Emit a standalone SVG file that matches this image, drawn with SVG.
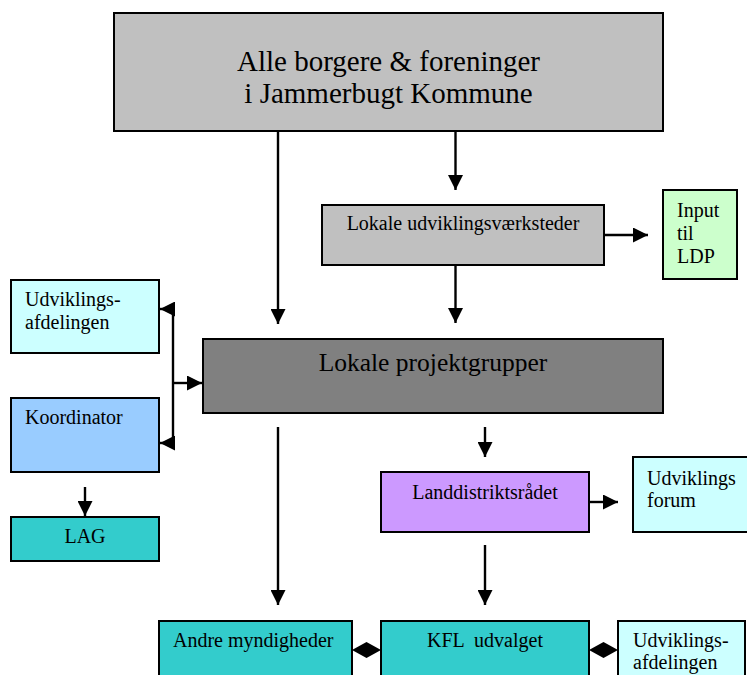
<svg xmlns="http://www.w3.org/2000/svg" width="747" height="675" viewBox="0 0 747 675" font-family="'Liberation Serif', 'Times New Roman', 'DejaVu Serif', serif">
<style>
.box{stroke:#000;stroke-width:2}
text{font-family:"Liberation Serif","Times New Roman","DejaVu Serif",serif;font-size:20px;fill:#000}
.c{text-anchor:middle}
.ln{stroke:#000;stroke-width:2.4;fill:none}
</style>
<defs>
<marker id="ah" viewBox="0 0 15 15" refX="15" refY="7.5" markerWidth="15" markerHeight="15" markerUnits="userSpaceOnUse" orient="auto">
<path d="M0,0 L15,7.5 L0,15 Z" fill="#000"/>
</marker>
</defs>
<rect width="747" height="675" fill="#fff"/>
<g id="connectors">
<path class="ln" d="M278,131 V324" marker-end="url(#ah)"/>
<path class="ln" d="M455.5,131 V190" marker-end="url(#ah)"/>
<path class="ln" d="M455.5,265 V323" marker-end="url(#ah)"/>
<path class="ln" d="M604,235 H648" marker-end="url(#ah)"/>
<path class="ln" d="M173,309 V443"/>
<path class="ln" d="M174,309 H160" marker-end="url(#ah)"/>
<path class="ln" d="M174,443 H160" marker-end="url(#ah)"/>
<path class="ln" d="M173,383 H202" marker-end="url(#ah)"/>
<path class="ln" d="M85,487 V516" marker-end="url(#ah)"/>
<path class="ln" d="M278,427 V605" marker-end="url(#ah)"/>
<path class="ln" d="M485,427 V457" marker-end="url(#ah)"/>
<path class="ln" d="M589,502 H618" marker-end="url(#ah)"/>
<path class="ln" d="M485,545 V605" marker-end="url(#ah)"/>
<polygon points="352,650 366.5,642 381,650 366.5,658" fill="#000"/>
<polygon points="589,650 603.5,642 618,650 603.5,658" fill="#000"/>
</g>
<g id="alle">
<rect class="box" x="114" y="13" width="549" height="118" fill="#C0C0C0"/>
<text class="c" x="388.5" y="71" style="font-size:29px">Alle borgere &amp; foreninger</text>
<text class="c" x="388.5" y="103" style="font-size:29px">i Jammerbugt Kommune</text>
</g>
<g id="vaerksteder">
<rect class="box" x="322" y="205" width="282" height="60" fill="#C0C0C0"/>
<text class="c" x="463" y="230">Lokale udviklingsværksteder</text>
</g>
<g id="input">
<rect class="box" x="663" y="190" width="74" height="89" fill="#CCFFCC"/>
<text x="677" y="217">Input</text>
<text x="677" y="240">til</text>
<text x="677" y="263">LDP</text>
</g>
<g id="projektgrupper">
<rect class="box" x="203" y="339" width="460" height="74" fill="#808080"/>
<text class="c" x="433" y="371" style="font-size:25.5px">Lokale projektgrupper</text>
</g>
<g id="udvikling1">
<rect class="box" x="11" y="280" width="148" height="73" fill="#CCFFFF"/>
<text x="25" y="306">Udviklings-</text>
<text x="25" y="329">afdelingen</text>
</g>
<g id="koordinator">
<rect class="box" x="11" y="398" width="148" height="74" fill="#99CCFF"/>
<text x="25" y="424">Koordinator</text>
</g>
<g id="lag">
<rect class="box" x="11" y="517" width="148" height="44" fill="#33CCCC"/>
<text class="c" x="85" y="543">LAG</text>
</g>
<g id="landdistrikt">
<rect class="box" x="381" y="472" width="208" height="60" fill="#CC99FF"/>
<text class="c" x="485" y="499">Landdistriktsrådet</text>
</g>
<g id="forum">
<rect class="box" x="633" y="457" width="120" height="75" fill="#CCFFFF"/>
<text x="647" y="485">Udviklings</text>
<text x="647" y="507">forum</text>
</g>
<g id="andre">
<rect class="box" x="159" y="621" width="193" height="60" fill="#33CCCC"/>
<text x="173" y="647">Andre myndigheder</text>
</g>
<g id="kfl">
<rect class="box" x="381" y="621" width="208" height="60" fill="#33CCCC"/>
<text class="c" x="485" y="647" xml:space="preserve" style="white-space:pre">KFL  udvalget</text>
</g>
<g id="udvikling2">
<rect class="box" x="618" y="621" width="127" height="60" fill="#CCFFFF"/>
<text x="633" y="647">Udviklings-</text>
<text x="633" y="669">afdelingen</text>
</g>
</svg>
